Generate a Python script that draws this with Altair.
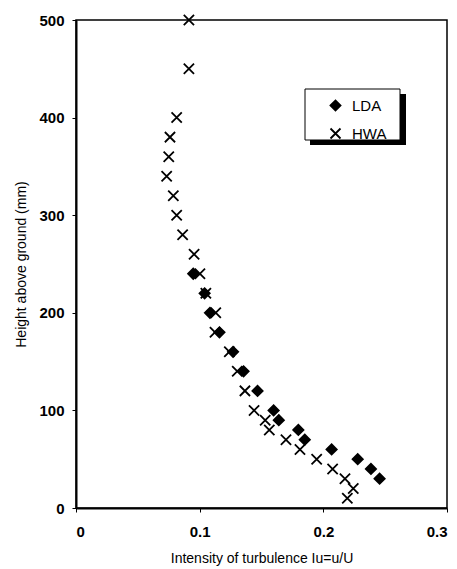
import altair as alt
import pandas as pd

# HWA (hot-wire anemometer) measurements
hwa_height = [500, 450, 400, 380, 360, 340, 320, 300, 280, 260, 240, 220, 200,
              180, 160, 140, 120, 100, 90, 80, 70, 60, 50, 40, 30, 20, 10]
hwa_iu = [0.0913, 0.0913, 0.0814, 0.0760, 0.0750, 0.0733, 0.0787, 0.0814, 0.0862,
          0.0955, 0.1002, 0.1050, 0.1130, 0.1124, 0.1240, 0.1304, 0.1366, 0.1440,
          0.1530, 0.1563, 0.1698, 0.1811, 0.1946, 0.2075, 0.2175, 0.2242, 0.2194]

# LDA (laser Doppler anemometer) measurements
lda_height = [240, 220, 200, 180, 160, 140, 120, 100, 90, 80, 70, 60, 50, 40, 30]
lda_iu = [0.0948, 0.1040, 0.1083, 0.1160, 0.1270, 0.1355, 0.1468, 0.1598, 0.1640,
          0.1798, 0.1850, 0.2067, 0.2278, 0.2385, 0.2455]

series_names = ["LDA", "HWA"]
x_ticks = [0, 0.1, 0.2, 0.3]
y_ticks = [0, 100, 200, 300, 400, 500]

df = pd.concat([
    pd.DataFrame({"iu": lda_iu, "h": lda_height, "series": "LDA"}),
    pd.DataFrame({"iu": hwa_iu, "h": hwa_height, "series": "HWA"}),
], ignore_index=True)

FONT = "Liberation Sans"
XPATH = "M-1,-1L1,1M-1,1L1,-1"

dummy = pd.DataFrame({"a": [0]})
shadow = alt.Chart(dummy).mark_rect(color="black").encode(
    x=alt.value(234), x2=alt.value(330), y=alt.value(74), y2=alt.value(125)
)
box = alt.Chart(dummy).mark_rect(fill="white", stroke="black", strokeWidth=1).encode(
    x=alt.value(229), x2=alt.value(324), y=alt.value(69), y2=alt.value(120)
)

legend_cfg = dict(title=None, orient="none", legendX=252, legendY=78,
                  padding=0, symbolSize=100, symbolStrokeWidth=1.8,
                  labelFontSize=15, labelFont=FONT, labelColor="black",
                  labelOffset=9, rowPadding=9)

points = alt.Chart(df).mark_point(strokeWidth=1.8, opacity=1).encode(
    x=alt.X("iu:Q",
            scale=alt.Scale(domain=[0, 0.3], nice=False),
            axis=alt.Axis(values=x_ticks, format="~g", title="Intensity of turbulence Iu=u/U",
                          labelPadding=12, titlePadding=12)),
    y=alt.Y("h:Q",
            scale=alt.Scale(domain=[0, 500], nice=False),
            axis=alt.Axis(values=y_ticks, title="Height above ground (mm)",
                          labelPadding=8, titlePadding=10)),
    shape=alt.Shape("series:N",
                    scale=alt.Scale(domain=series_names, range=["diamond", XPATH]),
                    legend=alt.Legend(**legend_cfg)),
    fill=alt.Fill("series:N",
                  scale=alt.Scale(domain=series_names, range=["black", "transparent"]),
                  legend=alt.Legend(**legend_cfg)),
    stroke=alt.Stroke("series:N",
                      scale=alt.Scale(domain=series_names, range=["black", "black"]),
                      legend=alt.Legend(**legend_cfg)),
    size=alt.value(105),
)

chart = alt.layer(shadow, box, points).properties(
    width=371, height=488,
    autosize=alt.AutoSizeParams(type="none"),
    padding={"left": 68, "top": 12, "right": 2, "bottom": 61},
    background="white",
).configure_view(
    stroke="black", strokeWidth=1.5
).configure_axis(
    domainColor="black", domainWidth=2, tickColor="black", tickSize=4, tickWidth=1,
    grid=False, labelFont=FONT, labelFontSize=15, labelFontWeight="bold",
    labelColor="black", titleFont=FONT, titleFontSize=14, titleFontWeight="normal",
    titleColor="black"
)

chart.save("out.html", embed_options={"renderer": "svg", "actions": False})
